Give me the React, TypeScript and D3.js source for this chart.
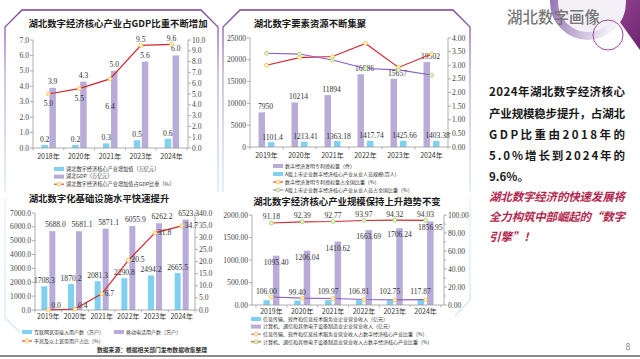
import React from "react";
import * as d3 from "d3";

// ---------- Data ----------
const c1Years = ["2018年", "2020年", "2021年", "2023年", "2024年"];
const c1Core = [0.2, 0.2, 0.3, 0.5, 0.6];
const c1Gdp = [3.9, 4.3, 5.0, 5.6, 6.0];
const c1Ratio = [5.0, 5.5, 6.4, 9.5, 9.6];
const c1LeftTicks = [0, 1, 2, 3, 4, 5, 6, 7];
const c1RightTicks = [0, 1, 2, 3, 4, 5, 6, 7, 8, 9, 10];
const c1Legend = ["湖北数字经济核心产业增加值（万亿元）", "湖北GDP（万亿元）", "湖北数字经济核心产业增加值占GDP比重（%）"];

const c2Years = ["2019年", "2020年", "2021年", "2022年", "2023年", "2024年"];
const c2Patents = [7950, 10214, 11894, 16686, 15657, 19502];
const c2Staff = [1101.4, 1213.41, 1363.18, 1417.74, 1425.66, 1403.38];
const c2PatentShare = [3.0, 3.28, 3.32, 3.8, 2.92, 3.41];
const c2StaffShare = [3.44, 3.41, 3.19, 2.88, 2.83, 2.64];
const c2LeftTicks = [0, 5000, 10000, 15000, 20000, 25000];
const c2RightTicks = [0, 0.5, 1, 1.5, 2, 2.5, 3, 3.5, 4];
const c2Legend = ["数字经济发明专利授权量（件）", "A股上市企业数字经济核心产业从业人员规模(百人)", "数字经济发明专利授权量占全国比重（%）", "A股上市企业数字经济核心产业从业人员占全国比重（%）"];

const c3Years = ["2019年", "2020年", "2021年", "2022年", "2023年", "2024年"];
const c3Broadband = [1708.3, 1870.2, 2081.3, 2290.8, 2494.2, 2665.5];
const c3Mobile = [5688.0, 5681.1, 5871.1, 6055.9, 6262.2, 6523.3];
const c3Gigabit = [0.0, 0.4, 6.7, 20.5, 31.8, 34.7];
const c3LeftTicks = [0, 1000, 2000, 3000, 4000, 5000, 6000, 7000];
const c3RightTicks = [0, 5, 10, 15, 20, 25, 30, 35, 40];
const c3Legend = ["互联网宽带接入用户数（万户）", "移动电话用户数（万户）", "千兆及以上宽带用户占比（%）"];

const c4Years = ["2019年", "2020年", "2021年", "2022年", "2023年", "2024年"];
const c4Software = [106.0, 99.4, 109.97, 106.81, 102.75, 117.87];
const c4Hardware = [1095.4, 1206.04, 1410.62, 1663.69, 1706.24, 1856.95];
const c4SoftwareShare = [8.82, 7.61, 7.23, 6.03, 5.68, 5.97];
const c4HardwareShare = [91.18, 92.39, 92.77, 93.97, 94.32, 94.03];
const c4LeftTicks = [0, 500, 1000, 1500, 2000];
const c4RightTicks = [0, 20, 40, 60, 80, 100];
const c4RightMinor = [10, 30, 50, 70, 90];
const c4Legend = ["信息传输、软件和信息技术服务业企业营业收入（亿元）", "计算机、通信和其他电子设备制造业企业营业收入（亿元）", "信息传输、软件和信息技术服务业营业收入占数字经济核心产业比重（%）", "计算机、通信和其他电子设备制造业营业收入占数字经济核心产业比重（%）"];

const textLines = ["2024年湖北数字经济核心", "产业规模稳步提升，占湖北", "GDP比重由2018年的", "5.0%增长到2024年的", "9.6%。"];
const textRedLines = ["湖北数字经济的快速发展将", "全力构筑中部崛起的“数字", "引擎”！"];

// label offsets (layout)
const c1RatioLabelDy = [12, 12.5, 30, -3, -3];

// ---------- Styles ----------
const SERIF = "'Liberation Serif','Times New Roman',serif";
const SANS = "'Noto Sans CJK SC','Noto Sans',sans-serif";
const BLUE = "#7fd1ef";
const PURPLE = "#b9acd8";
const RED = "#d3262c";
const PLINE = "#8c5ec6";
const AXIS = "#9a9a9a";
const NUM = "#333";

function YAxis({ scale, ticks, x, side, fmt, minor = [] as number[] }: any) {
  const dir = side === "left" ? -1 : 1;
  const [y0, y1] = scale.range();
  return (
    <g>
      <line x1={x} x2={x} y1={y0} y2={y1} stroke={AXIS} strokeWidth={0.8} />
      {minor.map((t: number) => (
        <line key={"m" + t} x1={x} x2={x + dir * 2} y1={scale(t)} y2={scale(t)} stroke={AXIS} strokeWidth={0.7} />
      ))}
      {ticks.map((t: number) => (
        <g key={t}>
          <line x1={x} x2={x + dir * 3} y1={scale(t)} y2={scale(t)} stroke={AXIS} strokeWidth={0.8} />
          <text x={x + dir * 4} y={scale(t)} dy="0.33em" textAnchor={side === "left" ? "end" : "start"} fontFamily={SERIF} fontSize={7.6} fill="#444">
            {fmt(t)}
          </text>
        </g>
      ))}
    </g>
  );
}

function XAxis({ band, y, x0, x1, dyLabel }: any) {
  const bounds = band.domain().map((d: string) => band(d));
  bounds.push(band.range()[1]);
  return (
    <g>
      <line x1={x0} x2={x1} y1={y} y2={y} stroke={AXIS} strokeWidth={0.8} />
      {bounds.map((b: number, i: number) => (
        <line key={i} x1={b} x2={b} y1={y} y2={y + 2.5} stroke={AXIS} strokeWidth={0.7} />
      ))}
      {band.domain().map((d: string) => (
        <text key={d} x={band(d) + band.bandwidth() / 2} y={y + dyLabel} textAnchor="middle" fontFamily={SANS} fontSize={7} fill="#333">
          {d}
        </text>
      ))}
    </g>
  );
}

function Marker({ x, y, fill, stroke }: any) {
  return <circle cx={x} cy={y} r={2} fill={fill} stroke={stroke} strokeWidth={0.7} />;
}

const YEL = { fill: "#fff6c2", stroke: "#f1b640" };
const GRN = { fill: "#e4f5c8", stroke: "#9ccc62" };

function Legend({ x, y, rowH, items, fontSize = 5, tx }: any) {
  return (
    <g>
      {items.map((it: any, i: number) => {
        const cy = y + i * rowH;
        return (
          <g key={i}>
            {it.kind === "bar" ? (
              <rect x={x} y={cy - 2} width={10} height={4} fill={it.color} />
            ) : (
              <g>
                <line x1={x} x2={x + 10} y1={cy} y2={cy} stroke={it.color} strokeWidth={1} />
                <Marker x={x + 5} y={cy} {...it.marker} />
              </g>
            )}
            <text x={x + (tx ?? 12)} y={cy} dy="0.36em" fontFamily={SANS} fontSize={fontSize} fill="#333">
              {it.label}
            </text>
          </g>
        );
      })}
    </g>
  );
}

function Title({ x, y, children }: any) {
  return (
    <text x={x} y={y} textAnchor="middle" fontFamily={SANS} fontWeight={700} fontSize={9.4} fill="#1a1a1a">
      {children}
    </text>
  );
}

// ---------- Chart 1 ----------
function Chart1() {
  const x = d3.scaleBand<string>().domain(c1Years).range([33, 187]);
  const yL = d3.scaleLinear().domain([0, 7]).range([148, 40]);
  const yR = d3.scaleLinear().domain([0, 10]).range([148, 40]);
  const cx = (i: number) => (x(c1Years[i]) as number) + x.bandwidth() / 2;
  const line = d3.line<number>().x((_, i) => cx(i)).y((d) => yR(d));
  const f1 = d3.format(".1f");
  return (
    <g>
      <Title x={118} y={27}>湖北数字经济核心产业占GDP比重不断增加</Title>
      <YAxis scale={yL} ticks={c1LeftTicks} x={33} side="left" fmt={f1} />
      <YAxis scale={yR} ticks={c1RightTicks} x={188} side="right" fmt={f1} />
      {c1Core.map((v, i) => (
        <rect key={"b" + i} x={cx(i) - 7} y={yL(v)} width={6.5} height={148 - yL(v)} fill={BLUE} />
      ))}
      {c1Gdp.map((v, i) => (
        <rect key={"p" + i} x={cx(i) + 1} y={yL(v)} width={6.5} height={148 - yL(v)} fill={PURPLE} />
      ))}
      <XAxis band={x} y={148} x0={33} x1={188} dyLabel={10.5} />
      {c1Core.map((v, i) => (
        <text key={"bl" + i} x={cx(i) - 3.75} y={yL(v) - 3} textAnchor="middle" fontFamily={SERIF} fontSize={7.6} fill={NUM}>{f1(v)}</text>
      ))}
      {c1Gdp.map((v, i) => (
        <text key={"pl" + i} x={cx(i) + 4.25} y={yL(v) - 4} textAnchor="middle" fontFamily={SERIF} fontSize={7.6} fill={NUM}>{f1(v)}</text>
      ))}
      <path d={line(c1Ratio) as string} fill="none" stroke={RED} strokeWidth={1.2} />
      {c1Ratio.map((v, i) => (
        <g key={"r" + i}>
          <Marker x={cx(i)} y={yR(v)} {...YEL} />
          <text x={cx(i)} y={yR(v) + c1RatioLabelDy[i]} textAnchor="middle" fontFamily={SERIF} fontSize={7.6} fill={NUM}>{f1(v)}</text>
        </g>
      ))}
      <Legend
        x={54}
        y={169}
        rowH={7.6}
        fontSize={5.2}
        items={[
          { label: c1Legend[0], kind: "bar", color: BLUE },
          { label: c1Legend[1], kind: "bar", color: PURPLE },
          { label: c1Legend[2], kind: "line", color: RED, marker: YEL },
        ]}
      />
    </g>
  );
}

// ---------- Chart 2 ----------
function Chart2() {
  const x = d3.scaleBand<string>().domain(c2Years).range([250, 448]);
  const yL = d3.scaleLinear().domain([0, 25000]).range([147, 38]);
  const yR = d3.scaleLinear().domain([0, 4]).range([147, 38]);
  const cx = (i: number) => (x(c2Years[i]) as number) + x.bandwidth() / 2;
  const line = d3.line<number>().x((_, i) => cx(i)).y((d) => yR(d));
  return (
    <g>
      <Title x={310} y={27}>湖北数字要素资源不断集聚</Title>
      <YAxis scale={yL} ticks={c2LeftTicks} x={250} side="left" fmt={d3.format("d")} />
      <YAxis scale={yR} ticks={c2RightTicks} x={448} side="right" fmt={d3.format(".2f")} />
      {c2Patents.map((v, i) => (
        <rect key={"p" + i} x={cx(i) - 8} y={yL(v)} width={6.5} height={147 - yL(v)} fill={PURPLE} />
      ))}
      {c2Staff.map((v, i) => (
        <rect key={"b" + i} x={cx(i) + 1.5} y={yL(v)} width={6.5} height={147 - yL(v)} fill={BLUE} />
      ))}
      <XAxis band={x} y={147} x0={250} x1={448} dyLabel={10.5} />
      {c2Patents.map((v, i) => (
        <text key={"pl" + i} x={cx(i) - 1} y={yL(v) - 3} textAnchor="middle" fontFamily={SERIF} fontSize={7.6} fill={NUM}>{v}</text>
      ))}
      {c2Staff.map((v, i) => (
        <text key={"bl" + i} x={cx(i) + 6} y={yL(v) - 2.5} textAnchor="middle" fontFamily={SERIF} fontSize={7.6} fill={NUM}>{v}</text>
      ))}
      <path d={line(c2PatentShare) as string} fill="none" stroke={RED} strokeWidth={1.1} />
      <path d={line(c2StaffShare) as string} fill="none" stroke={PLINE} strokeWidth={1.1} />
      {c2PatentShare.map((v, i) => (
        <Marker key={"r" + i} x={cx(i)} y={yR(v)} {...YEL} />
      ))}
      {c2StaffShare.map((v, i) => (
        <Marker key={"s" + i} x={cx(i)} y={yR(v)} {...GRN} />
      ))}
      <Legend
        x={273}
        y={166}
        rowH={8}
        items={[
          { label: c2Legend[0], kind: "bar", color: PURPLE },
          { label: c2Legend[1], kind: "bar", color: BLUE },
          { label: c2Legend[2], kind: "line", color: RED, marker: YEL },
          { label: c2Legend[3], kind: "line", color: PLINE, marker: GRN },
        ]}
      />
    </g>
  );
}

// ---------- Chart 3 ----------
function Chart3() {
  const x = d3.scaleBand<string>().domain(c3Years).range([35, 195]);
  const yL = d3.scaleLinear().domain([0, 7000]).range([310, 213]);
  const yR = d3.scaleLinear().domain([0, 40]).range([310, 213]);
  const cx = (i: number) => (x(c3Years[i]) as number) + x.bandwidth() / 2;
  const line = d3.line<number>().x((_, i) => cx(i)).y((d) => yR(d));
  const f1 = d3.format(".1f");
  return (
    <g>
      <Title x={99} y={202}>湖北数字化基础设施水平快速提升</Title>
      <YAxis scale={yL} ticks={c3LeftTicks} x={35} side="left" fmt={f1} />
      <YAxis scale={yR} ticks={c3RightTicks} x={195} side="right" fmt={f1} />
      {c3Broadband.map((v, i) => (
        <rect key={"b" + i} x={cx(i) - 7} y={yL(v)} width={6} height={310 - yL(v)} fill={BLUE} />
      ))}
      {c3Mobile.map((v, i) => (
        <rect key={"p" + i} x={cx(i) + 1} y={yL(v)} width={6} height={310 - yL(v)} fill={PURPLE} />
      ))}
      <XAxis band={x} y={310} x0={35} x1={195} dyLabel={9} />
      {c3Broadband.map((v, i) => (
        <text key={"bl" + i} x={cx(i) - 4} y={yL(v) - 3} textAnchor="middle" fontFamily={SERIF} fontSize={7.6} fill={NUM}>{f1(v)}</text>
      ))}
      {c3Mobile.map((v, i) => (
        <text key={"pl" + i} x={cx(i) + 7} y={yL(v) - 4} textAnchor="middle" fontFamily={SERIF} fontSize={7.6} fill={NUM}>{f1(v)}</text>
      ))}
      <path d={line(c3Gigabit) as string} fill="none" stroke={RED} strokeWidth={1.2} />
      {c3Gigabit.map((v, i) => (
        <g key={"r" + i}>
          <Marker x={cx(i)} y={yR(v)} {...YEL} />
          <text x={cx(i) + 3} y={Math.min(yR(v) + 2, 308)} fontFamily={SERIF} fontSize={7.6} fill={NUM}>{f1(v)}</text>
        </g>
      ))}
      <Legend
        x={22}
        y={332}
        rowH={9}
        items={[
          { label: c3Legend[0], kind: "bar", color: BLUE },
          { label: c3Legend[2], kind: "line", color: RED, marker: YEL },
        ]}
      />
      <Legend x={114} y={332} rowH={9} items={[{ label: c3Legend[1], kind: "bar", color: PURPLE }]} />
      <text x={97} y={352} fontFamily={SANS} fontWeight={700} fontSize={5.8} fill="#333">数据来源：根据相关部门发布数据收集整理</text>
    </g>
  );
}

// ---------- Chart 4 ----------
function Chart4() {
  const x = d3.scaleBand<string>().domain(c4Years).range([256, 441]);
  const yL = d3.scaleLinear().domain([0, 2000]).range([305, 215]);
  const yR = d3.scaleLinear().domain([0, 100]).range([305, 215]);
  const cx = (i: number) => (x(c4Years[i]) as number) + x.bandwidth() / 2;
  const line = d3.line<number>().x((_, i) => cx(i)).y((d) => yR(d));
  const f2 = d3.format(".2f");
  return (
    <g>
      <Title x={347} y={205}>湖北数字经济核心产业规模保持上升趋势不变</Title>
      <YAxis scale={yL} ticks={c4LeftTicks} x={252} side="left" fmt={f2} />
      <YAxis scale={yR} ticks={c4RightTicks} x={444} side="right" fmt={f2} minor={c4RightMinor} />
      {c4Software.map((v, i) => (
        <rect key={"b" + i} x={cx(i) - 8} y={yL(v)} width={6.5} height={305 - yL(v)} fill={BLUE} />
      ))}
      {c4Hardware.map((v, i) => (
        <rect key={"p" + i} x={cx(i) + 1.5} y={yL(v)} width={6.5} height={305 - yL(v)} fill={PURPLE} />
      ))}
      <XAxis band={x} y={305} x0={252} x1={444} dyLabel={8.6} />
      {c4Hardware.map((v, i) => (
        <text key={"pl" + i} x={cx(i) + 4.75} y={yL(v) + 9} textAnchor="middle" fontFamily={SERIF} fontSize={7.6} fill={NUM}>{f2(v)}</text>
      ))}
      <path d={line(c4HardwareShare) as string} fill="none" stroke={RED} strokeWidth={1.1} />
      <path d={line(c4SoftwareShare) as string} fill="none" stroke={PLINE} strokeWidth={1.1} />
      {c4HardwareShare.map((v, i) => (
        <g key={"r" + i}>
          <Marker x={cx(i)} y={yR(v)} {...GRN} />
          <text x={cx(i)} y={yR(v) - 3.5} textAnchor="middle" fontFamily={SERIF} fontSize={7.6} fill={NUM}>{f2(v)}</text>
        </g>
      ))}
      {c4SoftwareShare.map((v, i) => (
        <Marker key={"s" + i} x={cx(i)} y={yR(v)} {...YEL} />
      ))}
      {c4Software.map((v, i) => (
        <text key={"bl" + i} x={cx(i) - 5} y={yL(v) - 6} textAnchor="middle" fontFamily={SERIF} fontSize={7.6} fill={NUM}>{f2(v)}</text>
      ))}
      <Legend
        x={251}
        y={319}
        rowH={7.6}
        fontSize={5}
        items={[
          { label: c4Legend[0], kind: "bar", color: BLUE },
          { label: c4Legend[1], kind: "bar", color: PURPLE },
          { label: c4Legend[2], kind: "line", color: PLINE, marker: YEL },
          { label: c4Legend[3], kind: "line", color: RED, marker: GRN },
        ]}
      />
    </g>
  );
}

// ---------- Frames & right side ----------
function Frames() {
  return (
    <g fill="none">
      <defs>
        <linearGradient id="frameG" x1="0" y1="0" x2="0" y2="1">
          <stop offset="0" stopColor="#7b3d95" />
          <stop offset="0.35" stopColor="#b9a6d3" />
          <stop offset="1" stopColor="#d6ebf7" />
        </linearGradient>
        <linearGradient id="frameB" x1="0" y1="0" x2="0" y2="1">
          <stop offset="0" stopColor="#e2f0f9" />
          <stop offset="1" stopColor="#cfe6f5" />
        </linearGradient>
      </defs>
      <path d="M5,192 L5,27 L22,10 L201,10 L218,27 L218,192" stroke="url(#frameG)" strokeWidth={1.3} />
      <path d="M223,192 L223,27 L240,10 L453,10 L470,27 L470,192" stroke="url(#frameG)" strokeWidth={1.3} />
      <path d="M5,198 L5,318 L20,332" stroke="url(#frameB)" strokeWidth={1.2} />
      <path d="M218,198 L218,318" stroke="url(#frameB)" strokeWidth={1.2} />
      <path d="M223,198 L223,318" stroke="url(#frameB)" strokeWidth={1.2} />
      <path d="M470,198 L470,300 L455,316" stroke="url(#frameB)" strokeWidth={1.2} />
    </g>
  );
}

function RightSide() {
  const lineY = [96, 118, 139, 160, 181];
  const redY = [201, 221, 241];
  return (
    <g>
      <defs>
        <linearGradient id="ringG" x1="0" y1="0" x2="1" y2="0.3">
          <stop offset="0" stopColor="#8e6aaf" />
          <stop offset="0.6" stopColor="#c9b9da" />
          <stop offset="1" stopColor="#f4f0f8" />
        </linearGradient>
        <linearGradient id="cornerG" x1="0" y1="0" x2="1" y2="1">
          <stop offset="0" stopColor="#9a4c97" />
          <stop offset="1" stopColor="#6d2370" />
        </linearGradient>
      </defs>
      <polygon points="604,0 640,0 640,50" fill="url(#cornerG)" />
      <circle cx={588} cy={2} r={34} fill="#f3f0f6" stroke="url(#ringG)" strokeWidth={8} />
      <circle cx={608} cy={35} r={15} fill="none" stroke="#a2479c" strokeWidth={1} />
      <text x={507} y={23} fontFamily={SANS} fontSize={15.5} fontWeight={500} fill="#777">湖北数字画像</text>
      {textLines.map((t, i) => (
        <text key={i} x={489} y={lineY[i]} fontFamily={SANS} fontWeight={700} fontSize={11.5} fill="#1a1a1a"
          {...(i < 4 ? { textLength: 136, lengthAdjust: "spacing" } : {})}>
          {t}
        </text>
      ))}
      {textRedLines.map((t, i) => (
        <text key={"r" + i} x={489} y={redY[i]} fontFamily={SANS} fontWeight={700} fontStyle="italic" fontSize={11.5} fill="#b3284e"
          {...(i < 2 ? { textLength: 136, lengthAdjust: "spacing" } : {})}>
          {t}
        </text>
      ))}
    </g>
  );
}

export default function App() {
  return (
    <svg width={640} height={359} viewBox="0 0 640 359" style={{ position: "absolute", left: 0, top: 0, background: "#fff" }}>
      <rect width={640} height={359} fill="#fff" />
      <Frames />
      <Chart1 />
      <Chart2 />
      <Chart3 />
      <Chart4 />
      <RightSide />
      <line x1={0} x2={640} y1={356} y2={356} stroke="#8a8a8a" strokeWidth={2} />
      <text x={628} y={350} textAnchor="middle" fontFamily={SANS} fontSize={9} fill="#888">8</text>
    </svg>
  );
}
